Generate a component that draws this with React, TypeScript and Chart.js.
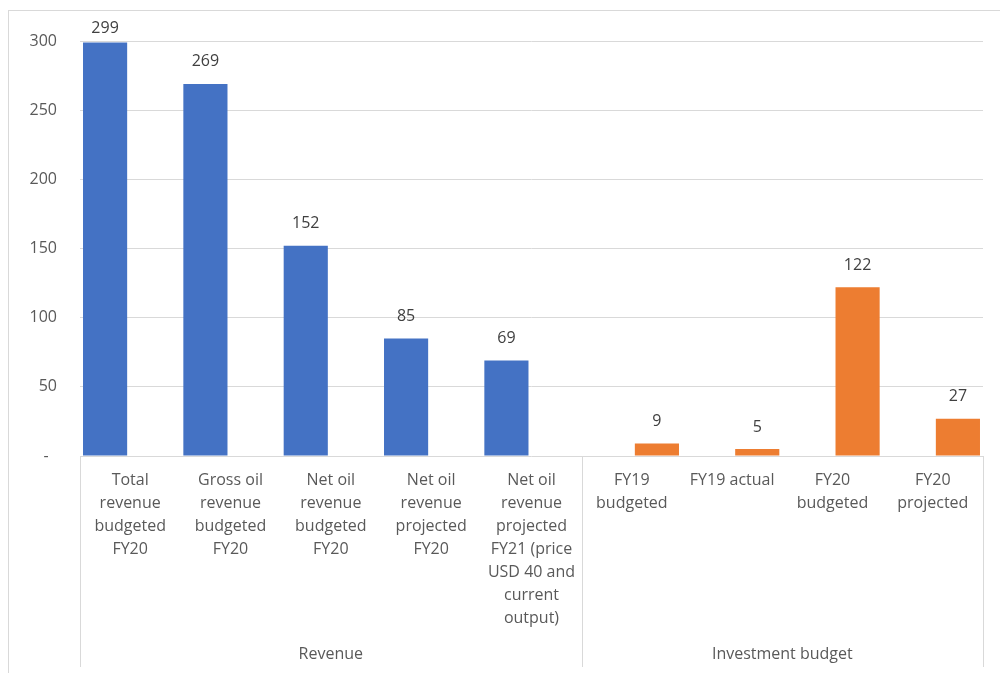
import React, { useEffect, useRef } from "react";
import { Chart, registerables } from "chart.js";

Chart.register(...registerables);

const categories: string[][] = [
  ["Total", "revenue", "budgeted", "FY20"],
  ["Gross oil", "revenue", "budgeted", "FY20"],
  ["Net oil", "revenue", "budgeted", "FY20"],
  ["Net oil", "revenue", "projected", "FY20"],
  ["Net oil", "revenue", "projected", "FY21 (price", "USD 40 and", "current", "output)"],
  ["FY19", "budgeted"],
  ["FY19 actual"],
  ["FY20", "budgeted"],
  ["FY20", "projected"],
];

const groups = [
  { label: "Revenue", from: 0, to: 4 },
  { label: "Investment budget", from: 5, to: 8 },
];

const revenueValues: (number | null)[] = [299, 269, 152, 85, 69, null, null, null, null];
const investmentValues: (number | null)[] = [null, null, null, null, null, 9, 5, 122, 27];

const yTicks = [0, 50, 100, 150, 200, 250, 300];

const FONT = "'Open Sans', 'Noto Sans', sans-serif";
const SIZE = 16;
const TEXT = "#595959";
const GRID = "#d9d9d9";

const framePlugin = {
  id: "frame",
  beforeDraw(chart: any) {
    const ctx = chart.ctx;
    ctx.save();
    ctx.fillStyle = "#ffffff";
    ctx.fillRect(0, 0, chart.width, chart.height);
    ctx.strokeStyle = GRID;
    ctx.lineWidth = 1;
    ctx.strokeRect(8.5, 10.5, chart.width + 10, chart.height + 10);
    ctx.restore();
  },
};

const groupAxisPlugin = {
  id: "groupAxis",
  afterDraw(chart: any) {
    const ctx = chart.ctx;
    const x = chart.scales.x;
    const area = chart.chartArea;
    const n = categories.length;
    const slot = (area.right - area.left) / n;
    const bottom = area.bottom + 211;
    ctx.save();
    ctx.strokeStyle = GRID;
    ctx.lineWidth = 1;
    const bounds = [0, ...groups.map((g) => g.to + 1)];
    bounds.forEach((b) => {
      const px = Math.round(x.getPixelForValue(b) - slot / 2) + 0.5;
      ctx.beginPath();
      ctx.moveTo(px, area.bottom);
      ctx.lineTo(px, bottom);
      ctx.stroke();
    });
    ctx.fillStyle = TEXT;
    ctx.font = `${SIZE}px ${FONT}`;
    ctx.textAlign = "center";
    ctx.textBaseline = "middle";
    groups.forEach((g) => {
      const l = x.getPixelForValue(g.from) - slot / 2;
      const r = x.getPixelForValue(g.to) + slot / 2;
      ctx.fillText(g.label, (l + r) / 2, area.bottom + 198);
    });
    ctx.restore();
  },
};

const valueLabelPlugin = {
  id: "valueLabels",
  afterDatasetsDraw(chart: any) {
    const ctx = chart.ctx;
    ctx.save();
    ctx.fillStyle = "#404040";
    ctx.font = `${SIZE}px ${FONT}`;
    ctx.textAlign = "center";
    ctx.textBaseline = "middle";
    chart.data.datasets.forEach((ds: any, di: number) => {
      const meta = chart.getDatasetMeta(di);
      meta.data.forEach((el: any, i: number) => {
        const v = ds.data[i];
        if (v === null || v === undefined) return;
        const y = Math.max(el.y - 22, 28);
        ctx.fillText(String(v), el.x, y);
      });
    });
    ctx.restore();
  },
};

export default function App() {
  const ref = useRef<HTMLCanvasElement>(null);
  useEffect(() => {
    if (!ref.current) return;
    const chart = new Chart(ref.current, {
      type: "bar",
      data: {
        labels: categories,
        datasets: [
          {
            label: "Revenue",
            data: revenueValues,
            backgroundColor: "#4472C4",
            categoryPercentage: 1,
            barPercentage: 0.88,
          },
          {
            label: "Investment budget",
            data: investmentValues,
            backgroundColor: "#ED7D31",
            categoryPercentage: 1,
            barPercentage: 0.88,
          },
        ],
      },
      options: {
        animation: false,
        responsive: false,
        maintainAspectRatio: false,
        layout: { padding: { top: 41, right: 17, bottom: 0, left: 0 } },
        plugins: {
          legend: { display: false },
          tooltip: { enabled: false },
        },
        scales: {
          x: {
            grid: { display: false, drawTicks: false },
            border: { display: false },
            ticks: {
              color: TEXT,
              font: { family: FONT, size: SIZE, lineHeight: 23 / SIZE },
              padding: 13,
              maxRotation: 0,
              minRotation: 0,
              autoSkip: false,
            },
            afterFit(scale: any) {
              scale.height = 217;
            },
          },
          y: {
            min: 0,
            max: 300,
            afterBuildTicks(scale: any) {
              scale.ticks = yTicks.map((v) => ({ value: v }));
            },
            grid: { color: GRID, drawTicks: false },
            border: { display: false },
            ticks: {
              color: TEXT,
              font: { family: FONT, size: SIZE },
              padding: 23,
              callback: (v: any) => (Number(v) === 0 ? "-  " : String(v)),
            },
            afterFit(scale: any) {
              scale.width = 80;
            },
          },
        },
      },
      plugins: [framePlugin, groupAxisPlugin, valueLabelPlugin],
    });
    return () => chart.destroy();
  }, []);
  return (
    <div style={{ position: "absolute", left: 0, top: 0, width: 1000, height: 673 }}>
      <canvas ref={ref} width={1000} height={673} style={{ display: "block" }} />
    </div>
  );
}
